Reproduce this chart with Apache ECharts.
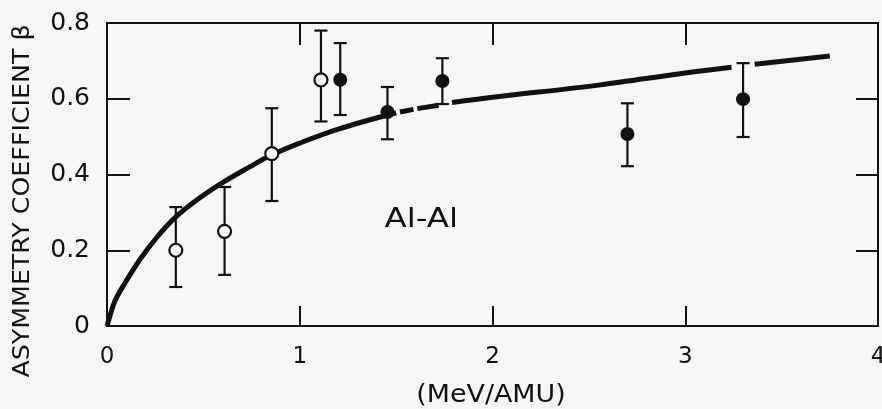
<!DOCTYPE html>
<html>
<head>
<meta charset="utf-8">
<script src="https://cdn.jsdelivr.net/npm/echarts@6/dist/echarts.min.js"></script>
<style>
  html, body { margin: 0; padding: 0; background: #f6f6f6; }
</style>
</head>
<body>
<div id="chart" style="width: 882px; height: 409px;"></div>
<script>
// open circles
var openX = [0.357, 0.61, 0.855, 1.11]
var openY = [0.20, 0.25, 0.455, 0.65]
var openLo = [0.103, 0.135, 0.33, 0.54]
var openHi = [0.314, 0.367, 0.575, 0.78]

// filled circles
var fillX = [1.21, 1.455, 1.74, 2.70, 3.30]
var fillY = [0.65, 0.565, 0.647, 0.507, 0.599]
var fillLo = [0.557, 0.493, 0.586, 0.422, 0.499]
var fillHi = [0.747, 0.631, 0.707, 0.588, 0.694]

// drawn curve (null = break in the line)
var curveX = [0, 0.016, 0.041, 0.083, 0.17, 0.26, 0.357, 0.48, 0.61, 0.74, 0.855, 1.0, 1.2, 1.5, null,
  1.52, 1.59, null, 1.61, 1.72, null, 1.79, 2.0, 2.55, 3.0, 3.24, null, 3.36, 3.75]
var curveY = [0, 0.028, 0.066, 0.105, 0.175, 0.235, 0.288, 0.338, 0.382, 0.42, 0.452, 0.483, 0.52, 0.563, null,
  0.565, 0.572, null, 0.574, 0.583, null, 0.59, 0.604, 0.636, 0.668, 0.683, null, 0.691, 0.713]

var labelText = 'Al-Al'
var labelPos = [1.63, 0.28]

var xTicks = [0, 4, 1]      // min, max, interval
var yTicks = [0, 0.8, 0.2]

var myChart = echarts.init(document.getElementById('chart'))

function pairs(xs, ys) {
  return xs.map(function (x, i) { return x === null ? [null, null] : [x, ys[i]] })
}
function bars(xs, lo, hi) {
  return xs.map(function (x, i) { return [x, lo[i], hi[i]] })
}

function renderErr(params, api) {
  var x = api.value(0)
  var top = api.coord([x, api.value(2)])
  var bot = api.coord([x, api.value(1)])
  var w = 6.5
  var st = { stroke: '#111', lineWidth: 2.2 }
  return {
    type: 'group',
    children: [
      { type: 'line', shape: { x1: top[0], y1: top[1], x2: bot[0], y2: bot[1] }, style: st },
      { type: 'line', shape: { x1: top[0] - w, y1: top[1], x2: top[0] + w, y2: top[1] }, style: st },
      { type: 'line', shape: { x1: bot[0] - w, y1: bot[1], x2: bot[0] + w, y2: bot[1] }, style: st }
    ]
  }
}

var font = 'DejaVu Sans'
var axisCommon = {
  type: 'value',
  splitLine: { show: false },
  axisLine: { show: true, onZero: false, lineStyle: { color: '#111', width: 2 } },
  axisTick: { show: true, inside: true, lineStyle: { color: '#111', width: 2 } }
}

var option = {
  backgroundColor: '#f6f6f6',
  animation: false,
  grid: {
    left: 107, right: 4, top: 23, bottom: 83,
    outerBoundsMode: 'none', containLabel: false,
    show: true, borderColor: '#111', borderWidth: 2
  },
  xAxis: [
    Object.assign({}, axisCommon, {
      min: xTicks[0], max: xTicks[1], interval: xTicks[2], position: 'bottom',
      axisTick: Object.assign({}, axisCommon.axisTick, { length: 20 }),
      axisLabel: { color: '#111', fontFamily: font, fontSize: 23, margin: 20 }
    }),
    Object.assign({}, axisCommon, {
      min: xTicks[0], max: xTicks[1], interval: xTicks[2], position: 'top',
      axisTick: Object.assign({}, axisCommon.axisTick, { length: 22 }),
      axisLabel: { show: false }
    })
  ],
  yAxis: [
    Object.assign({}, axisCommon, {
      min: yTicks[0], max: yTicks[1], interval: yTicks[2], position: 'left',
      axisTick: Object.assign({}, axisCommon.axisTick, { length: 23 }),
      axisLabel: { color: '#111', fontFamily: font, fontSize: 25, margin: 17 }
    }),
    Object.assign({}, axisCommon, {
      min: yTicks[0], max: yTicks[1], interval: yTicks[2], position: 'right',
      axisTick: Object.assign({}, axisCommon.axisTick, { length: 22 }),
      axisLabel: { show: false }
    })
  ],
  series: [
    {
      name: 'curve',
      type: 'line',
      data: pairs(curveX, curveY),
      smooth: 0.35,
      showSymbol: false,
      connectNulls: false,
      lineStyle: { color: '#111', width: 5 },
      z: 2
    },
    {
      name: 'errors',
      type: 'custom',
      renderItem: renderErr,
      data: bars(openX, openLo, openHi).concat(bars(fillX, fillLo, fillHi)),
      z: 3
    },
    {
      name: 'open',
      type: 'scatter',
      data: pairs(openX, openY),
      symbol: 'circle',
      symbolSize: 13,
      itemStyle: { color: '#fafafa', borderColor: '#111', borderWidth: 2.2, opacity: 1 },
      z: 4
    },
    {
      name: 'filled',
      type: 'scatter',
      data: pairs(fillX, fillY),
      symbol: 'circle',
      symbolSize: 14,
      itemStyle: { color: '#111', opacity: 1 },
      z: 4
    }
  ]
}

option && myChart.setOption(option)

// titles and the in-plot label
var lp = myChart.convertToPixel({ gridIndex: 0 }, labelPos)
myChart.setOption({
  graphic: [
    {
      type: 'text', x: 23, y: 201, rotation: Math.PI / 2, scaleX: 1.1,
      style: {
        text: 'ASYMMETRY COEFFICIENT β', fill: '#111',
        font: '23px "DejaVu Sans"', align: 'center', verticalAlign: 'middle'
      }
    },
    {
      type: 'text', x: 491, y: 396, scaleX: 1.12,
      style: {
        text: '(MeV/AMU)', fill: '#111',
        font: '24px "DejaVu Sans"', align: 'center', verticalAlign: 'middle'
      }
    },
    {
      type: 'text', x: lp[0], y: lp[1], scaleX: 1.25,
      style: {
        text: labelText, fill: '#111',
        font: '26px "DejaVu Sans"', align: 'center', verticalAlign: 'middle'
      }
    }
  ]
})
</script>
</body>
</html>
